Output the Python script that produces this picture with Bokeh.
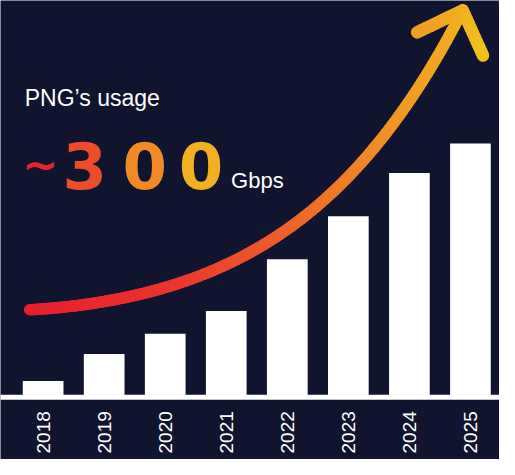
import numpy as np
from math import pi
from bokeh.plotting import figure
from bokeh.models import Range1d, Span, Label, ColumnDataSource
from bokeh.core.properties import value
from bokeh.embed import file_html
from bokeh.resources import INLINE

# ---------------- data ----------------
years = [2018, 2019, 2020, 2021, 2022, 2023, 2024, 2025]
year_labels = ["2018", "2019", "2020", "2021", "2022", "2023", "2024", "2025"]
capacity = [19, 51, 75, 102, 163, 214, 265, 300]   # relative capacity (Gbps scale)

headline_prefix = "~"
headline_digits = ["3", "0", "0"]
headline_unit = "Gbps"
subtitle = "PNG\u2019s usage"

# ---------------- layout helpers (reference 515x475 px -> data) ----------------
W, H = 499, 459
SX, SY = W / 515.0, H / 475.0
PX_PER_YEAR = 63.0 * SX
PX_PER_UNIT = 0.875 * SY
X_START = 2018 - 44 * SX / PX_PER_YEAR
Y_ZERO = 410.5 * SY          # figure px (from top) of value 0


def dx(rx):
    return X_START + rx * SX / PX_PER_YEAR


def dy(ry):
    return (Y_ZERO - ry * SY) / PX_PER_UNIT


def fs(px):
    return "%dpx" % round(px * SY)


BG = "#10142f"

p = figure(width=W, height=H, output_backend="svg", toolbar_location=None,
           x_range=Range1d(dx(0), dx(515)), y_range=Range1d(dy(475), dy(0)),
           x_axis_type=None, y_axis_type=None, min_border=0)
p.grid.visible = False
p.outline_line_color = None
p.background_fill_color = BG
p.border_fill_color = BG

# ---------------- bars ----------------
src = ColumnDataSource(dict(year=years, value=capacity, label=year_labels))
p.vbar(x="year", top="value", width=42 * SX / PX_PER_YEAR, bottom=0, source=src,
       fill_color="white", line_color=None)

# baseline
p.add_layout(Span(location=0, dimension="width", line_color="white",
                  line_width=5, line_cap="round"))

# year labels (rotated, reading bottom-to-top)
p.text(x="year", y=dy(425), text="label", source=src, angle=pi / 2,
       text_align="right", text_baseline="middle", text_color="white",
       text_font=value("Liberation Sans"), text_font_size=fs(19.5))


# ---------------- gradient arrow (decoration) ----------------
def hex2rgb(h):
    h = h.lstrip("#")
    return np.array([int(h[i:i + 2], 16) for i in (0, 2, 4)], dtype=float)


def grad(stops, t):
    pos = np.array([s[0] for s in stops])
    cols = np.array([hex2rgb(s[1]) for s in stops])
    out = []
    for tt in t:
        r = np.interp(tt, pos, cols[:, 0])
        g = np.interp(tt, pos, cols[:, 1])
        b = np.interp(tt, pos, cols[:, 2])
        out.append("#%02x%02x%02x" % (int(r), int(g), int(b)))
    return out


way = np.array([(30, 320), (100, 313), (150, 302), (235, 273), (280, 247),
                (313, 223), (347, 195), (380, 160), (413, 117), (437, 80),
                (453, 55), (465, 32), (477, 11)], dtype=float)
coef = np.polyfit(way[:, 0], way[:, 1], 4)
cx = np.linspace(30, 477, 160)
cy = np.polyval(coef, cx)

stops = [(30, "#e61f2e"), (180, "#ea352c"), (300, "#ee6229"), (380, "#f08826"),
         (440, "#f1a223"), (480, "#f1b020")]
mid_x = 0.5 * (cx[:-1] + cx[1:])
p.segment(x0=[dx(v) for v in cx[:-1]], y0=[dy(v) for v in cy[:-1]],
          x1=[dx(v) for v in cx[1:]], y1=[dy(v) for v in cy[1:]],
          line_color=grad(stops, mid_x), line_width=11.5, line_cap="round")

tip = np.array([cx[-1], cy[-1]])
for end, c_end in (((430.0, 33.0), "#f09f24"), ((498.0, 57.0), "#efc21b")):
    end = np.array(end)
    n = 10
    seg = [tip + (end - tip) * k / n for k in range(n + 1)]
    cols = grad([(0, "#f1b020"), (1, c_end)], [(k + 0.5) / n for k in range(n)])
    p.segment(x0=[dx(s[0]) for s in seg[:-1]], y0=[dy(s[1]) for s in seg[:-1]],
              x1=[dx(s[0]) for s in seg[1:]], y1=[dy(s[1]) for s in seg[1:]],
              line_color=cols, line_width=12.5, line_cap="round")

# ---------------- headline texts ----------------
p.add_layout(Label(x=dx(25), y=dy(101), text=subtitle, text_color="white",
                   text_font="Liberation Sans", text_font_size=fs(24),
                   text_align="left", text_baseline="alphabetic"))

p.add_layout(Label(x=dx(41), y=dy(170), text=headline_prefix, text_color="#e4252d",
                   text_font="DejaVu Sans", text_font_style="bold",
                   text_font_size=fs(44), text_align="center",
                   text_baseline="alphabetic"))

digit_cx = [87, 149, 207]
digit_col = ["#eb4d2b", "#f08a27", "#f0b022"]
for ch, c, col in zip(headline_digits, digit_cx, digit_col):
    p.add_layout(Label(x=dx(c), y=dy(171), text=ch, text_color=col,
                       text_font="DejaVu Sans", text_font_style="bold",
                       text_font_size=fs(66), text_align="center",
                       text_baseline="alphabetic"))

p.add_layout(Label(x=dx(238), y=dy(186), text=headline_unit, text_color="white",
                   text_font="Liberation Sans", text_font_size=fs(23),
                   text_align="left", text_baseline="alphabetic"))

open("out.html", "w").write(file_html(p, INLINE))
